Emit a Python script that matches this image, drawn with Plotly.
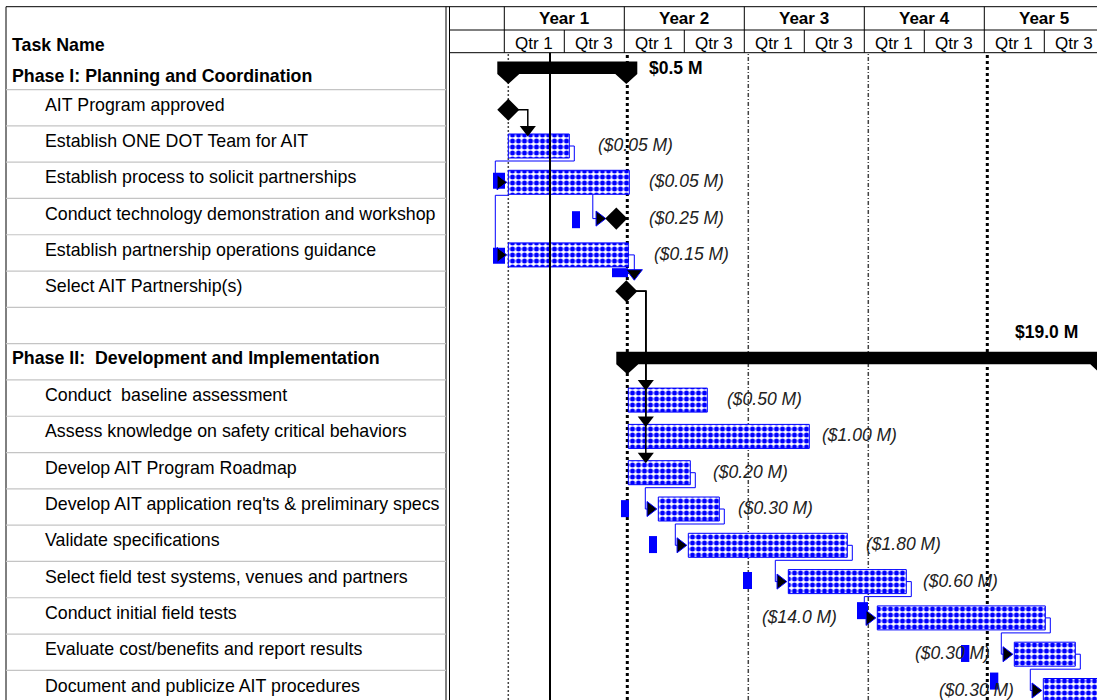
import plotly.graph_objects as go

# ---------------- data ----------------
task_names = [
    "Phase I: Planning and Coordination",
    "AIT Program approved",
    "Establish ONE DOT Team for AIT",
    "Establish process to solicit partnerships",
    "Conduct technology demonstration and workshop",
    "Establish partnership operations guidance",
    "Select AIT Partnership(s)",
    "",
    "Phase II:  Development and Implementation",
    "Conduct  baseline assessment",
    "Assess knowledge on safety critical behaviors",
    "Develop AIT Program Roadmap",
    "Develop AIT application req'ts & preliminary specs",
    "Validate specifications",
    "Select field test systems, venues and partners",
    "Conduct initial field tests",
    "Evaluate cost/benefits and report results",
    "Document and publicize AIT procedures",
]
task_kind = ["summary", "milestone", "task", "task", "milestone", "task", "milestone", "blank",
             "summary", "task", "task", "task", "task", "task", "task", "task", "task", "task"]
# months from project start
task_start = [0.0, 0.0, 0.0, 0.0, 10.8, 0.0, 11.8, None, 11.9,
              12.0, 12.0, 12.0, 15.0, 18.0, 28.0, 36.9, 50.6, 53.5]
task_finish = [11.8, 0.0, 6.1, 12.1, 10.8, 12.0, 11.8, None, 59.3,
               19.9, 30.1, 18.2, 21.1, 33.9, 39.8, 53.7, 56.7, 60.0]

summary_rows = [0, 8]
summary_cost = ["$0.5 M", "$19.0 M"]
summary_label_at = [13.9, 50.5]
summary_label_row = [-0.14, 7.13]

cost_rows = [2, 3, 4, 5, 9, 10, 11, 12, 13, 14, 15, 16, 17]
cost_text = ["($0.05 M)", "($0.05 M)", "($0.25 M)", "($0.15 M)", "($0.50 M)", "($1.00 M)",
             "($0.20 M)", "($0.30 M)", "($1.80 M)", "($0.60 M)", "($14.0 M)", "($0.30 M)", "($0.30 M)"]
cost_label_at = [8.8, 13.9, 13.9, 14.4, 21.7, 31.2, 20.3, 22.8, 35.6, 41.3, 25.2, 40.5, 42.9]

links = [(1, 2, "ms"), (2, 3, "fs"), (3, 4, "drop"), (3, 5, "ss"), (5, 6, "down"),
         (6, 9, "ms"), (6, 10, "ms"), (6, 11, "ms"),
         (11, 12, "fs"), (12, 13, "fs"), (13, 14, "fs"), (14, 15, "fs"), (15, 16, "fs"), (16, 17, "fs")]

flag_rows = [2.96, 4.03, 5.02, 5.49, 11.99, 12.98, 13.97, 14.8, 15.98, 16.74]
flag_from = [-1.53, 6.37, -1.53, 10.37, 11.27, 14.07, 23.47, 34.87, 45.27, 48.17]
flag_to = [-0.33, 7.17, -0.33, 11.97, 12.07, 14.87, 24.37, 35.97, 46.1, 49.0]

year_labels = ["Year 1", "Year 2", "Year 3", "Year 4", "Year 5"]
half_labels = ["Qtr 1", "Qtr 3"]
gridline_at = [0.0, 11.9, 24.0, 36.0, 47.9]
status_date = 4.17

# ---------------- layout constants ----------------
W, H = 1097, 700
X0_PX = 508.3          # pixel of month 0
PX_PER_MONTH = 10.0
ROW0_PX = 73.4         # pixel of row 0 bar centre
PX_PER_ROW = 36.3
CHART_LEFT = 449.5
dx = 1.0 / PX_PER_MONTH
dy = 1.0 / PX_PER_ROW
HDR_SHIFT = -0.4       # header year boundaries vs month grid

BLUE = "#0000FF"
FONT = "Liberation Sans, Arial, sans-serif"

flag_h_px = [16, 17, 16, 9, 17, 17, 17, 17, 17, 17]
grid_style = [dict(width=1.5, dash="2px,2px", color="#444"),
              dict(width=3, dash="3px,3px", color="black"),
              dict(width=1.5, dash="4px,2px,1px,2px", color="#444"),
              dict(width=1.5, dash="4px,2px,1px,2px", color="#444"),
              dict(width=3, dash="3px,3px", color="black")]


def py(p):
    return 1 - p / H


def pxp(p):
    return p / W


fig = go.Figure()

# task bars
t_rows = [i for i, k in enumerate(task_kind) if k == "task"]
fig.add_trace(go.Bar(
    orientation="h", y=t_rows,
    base=[task_start[i] for i in t_rows],
    x=[task_finish[i] - task_start[i] for i in t_rows],
    width=24 * dy,
    marker=dict(color="white", line=dict(color=BLUE, width=1),
                pattern=dict(shape=".", fgcolor=BLUE, bgcolor="white", size=6, solidity=0.55,
                             fillmode="replace")),
    hoverinfo="skip", showlegend=False))

# small solid blue markers
fig.add_trace(go.Bar(
    orientation="h", y=flag_rows, base=flag_from,
    x=[t - f for f, t in zip(flag_from, flag_to)],
    width=[h * dy for h in flag_h_px],
    marker=dict(color=BLUE, line=dict(width=0)),
    hoverinfo="skip", showlegend=False))

# summary bars
for r in summary_rows:
    s, f = task_start[r], task_finish[r]
    top, rb, pt = r - 12 * dy, r + 0.5 * dy, r + 10.5 * dy
    c = 11 * dx
    xs = [s - c, f + c, f + c, f, f - c, s + c, s, s - c, s - c]
    ys = [top, top, rb, pt, rb, rb, pt, rb, top]
    fig.add_trace(go.Scatter(x=xs, y=ys, mode="lines", fill="toself", fillcolor="black",
                             line=dict(width=0, color="black"), hoverinfo="skip", showlegend=False))

# links
bx, byy, kx, ky = [], [], [], []
ar_x, ar_y = [], []
adk_x, adk_y = [], []
adb_x, adb_y = [], []
for p, s, kind in links:
    if kind == "ms":
        xv = task_finish[p] + 19.5 * dx
        kx += [task_finish[p], xv, xv, None]
        ky += [p, p, s - 14 * dy, None]
        adk_x.append(xv)
        adk_y.append(s - 16.5 * dy)
    elif kind == "fs":
        xa = task_finish[p] + 5 * dx
        yb = p + 15 * dy
        xl = task_start[s] - 13 * dx
        bx += [task_finish[p], xa, xa, xl, xl, task_start[s] - 8 * dx, None]
        byy += [p, p, yb, yb, s, s, None]
        ar_x.append(task_start[s] - 8 * dx)
        ar_y.append(s)
    elif kind == "ss":
        yb = p + 13 * dy
        xl = task_start[p] - 13 * dx
        bx += [task_start[p], xl, xl, task_start[s] - 8 * dx, None]
        byy += [yb, yb, s, s, None]
        ar_x.append(task_start[s] - 8 * dx)
        ar_y.append(s)
    elif kind == "drop":
        xv = task_start[s] - 23.5 * dx
        bx += [xv, xv, task_start[s] - 17 * dx, None]
        byy += [p + 12.5 * dy, s, s, None]
        ar_x.append(task_start[s] - 17 * dx)
        ar_y.append(s)
    elif kind == "down":
        xa = task_finish[p] + 6 * dx
        bx += [task_finish[p], xa, xa, None]
        byy += [p, p, s - 18 * dy, None]
        adb_x.append(xa)
        adb_y.append(s - 18 * dy)

fig.add_trace(go.Scatter(x=bx, y=byy, mode="lines", line=dict(color=BLUE, width=1),
                         hoverinfo="skip", showlegend=False))
fig.add_trace(go.Scatter(x=kx, y=ky, mode="lines", line=dict(color="black", width=1.5),
                         hoverinfo="skip", showlegend=False))
fig.add_trace(go.Scatter(x=ar_x, y=ar_y, mode="markers",
                         marker=dict(symbol="triangle-right", size=13, color="black",
                                     line=dict(color=BLUE, width=1)),
                         hoverinfo="skip", showlegend=False))
fig.add_trace(go.Scatter(x=adk_x, y=adk_y, mode="markers",
                         marker=dict(symbol="triangle-down", size=14, color="black", line=dict(width=0)),
                         hoverinfo="skip", showlegend=False))
fig.add_trace(go.Scatter(x=adb_x, y=adb_y, mode="markers",
                         marker=dict(symbol="triangle-down", size=14, color="black",
                                     line=dict(color=BLUE, width=1)),
                         hoverinfo="skip", showlegend=False))

# milestones
m_rows = [i for i, k in enumerate(task_kind) if k == "milestone"]
fig.add_trace(go.Scatter(x=[task_start[i] for i in m_rows], y=m_rows, mode="markers",
                         marker=dict(symbol="diamond", size=17, color="black", line=dict(width=0)),
                         hoverinfo="skip", showlegend=False))

shapes = []
annotations = []

# vertical timeline lines
hdr_bottom = py(52.7)
for xg, st in zip(gridline_at, grid_style):
    shapes.append(dict(type="line", xref="x", yref="paper", x0=xg, x1=xg, y0=0, y1=hdr_bottom,
                       line=st, layer="below"))
shapes.append(dict(type="line", xref="x", yref="paper", x0=status_date, x1=status_date, y0=0,
                   y1=hdr_bottom, line=dict(color="black", width=2), layer="above"))

# table frame
LINE = dict(color="black", width=1)
shapes.append(dict(type="line", xref="paper", yref="paper", x0=pxp(6), x1=1, y0=py(6.7), y1=py(6.7), line=LINE))
shapes.append(dict(type="line", xref="paper", yref="paper", x0=pxp(6), x1=pxp(6), y0=0, y1=py(6.7), line=LINE))
for xp in (446, 449.5):
    shapes.append(dict(type="line", xref="paper", yref="paper", x0=pxp(xp), x1=pxp(xp), y0=0, y1=py(6.7),
                       line=LINE))
for i in range(len(task_names) - 1):
    yv = i + 0.5 - 2 * dy
    shapes.append(dict(type="line", xref="paper", yref="y", x0=pxp(6), x1=pxp(446), y0=yv, y1=yv,
                       line=dict(color="#c4c4c4", width=1.2)))

# timescale header
for yp in (30, 52.7):
    shapes.append(dict(type="line", xref="paper", yref="paper", x0=pxp(CHART_LEFT), x1=1,
                       y0=py(yp), y1=py(yp), line=LINE))
for k, lab in enumerate(year_labels):
    x_year = HDR_SHIFT + 12 * k
    shapes.append(dict(type="line", xref="x", yref="paper", x0=x_year, x1=x_year,
                       y0=py(52.7), y1=py(6.7), line=LINE))
    shapes.append(dict(type="line", xref="x", yref="paper", x0=x_year + 6, x1=x_year + 6,
                       y0=py(52.7), y1=py(30), line=LINE))
    annotations.append(dict(text="<b>%s</b>" % lab, xref="x", yref="paper", x=x_year + 6, y=py(18.3),
                            showarrow=False, xanchor="center", yanchor="middle",
                            font=dict(family=FONT, size=17, color="black")))
    for j, ql in enumerate(half_labels):
        annotations.append(dict(text=ql, xref="x", yref="paper", x=x_year + 3 + 6 * j, y=py(43.3),
                                showarrow=False, xanchor="center", yanchor="middle",
                                font=dict(family=FONT, size=17, color="black")))

# table text
annotations.append(dict(text="<b>Task Name</b>", xref="paper", yref="paper", x=pxp(10), y=py(45),
                        showarrow=False, xanchor="left", yanchor="middle",
                        font=dict(family=FONT, size=17.8, color="black")))
text_shift = {0: -2.4, 8: 6}
for i, name in enumerate(task_names):
    if not name:
        continue
    bold = task_kind[i] == "summary"
    annotations.append(dict(text=("<b>%s</b>" % name if bold else name).replace("  ", " \u00a0"),
                            xref="paper", yref="y", x=pxp(10 if bold else 43), y=i,
                            yshift=text_shift.get(i, 5),
                            showarrow=False, xanchor="left", yanchor="middle",
                            font=dict(family=FONT, size=17.8, color="black")))

# cost labels
for r, t, xa in zip(cost_rows, cost_text, cost_label_at):
    annotations.append(dict(text="<i>%s</i>" % t, xref="x", yref="y", x=xa, y=r, yshift=1,
                            showarrow=False, xanchor="left", yanchor="middle",
                            font=dict(family=FONT, size=17.5, color="#222")))
for t, xa, yr in zip(summary_cost, summary_label_at, summary_label_row):
    annotations.append(dict(text="<b>%s</b>" % t, xref="x", yref="y", x=xa, y=yr,
                            showarrow=False, xanchor="left", yanchor="middle",
                            font=dict(family=FONT, size=17.5, color="black")))

fig.update_layout(
    width=W, height=H, margin=dict(l=0, r=0, t=0, b=0),
    paper_bgcolor="white", plot_bgcolor="white",
    barmode="overlay", showlegend=False,
    xaxis=dict(domain=[CHART_LEFT / W, 1], range=[(CHART_LEFT - X0_PX) / PX_PER_MONTH, (W - X0_PX) / PX_PER_MONTH],
               showgrid=False, zeroline=False, showticklabels=False, ticks="", fixedrange=True),
    yaxis=dict(domain=[0, 1], range=[(H - ROW0_PX) / PX_PER_ROW, -ROW0_PX / PX_PER_ROW],
               showgrid=False, zeroline=False, showticklabels=False, ticks="", fixedrange=True),
    shapes=shapes, annotations=annotations,
)

fig.write_html("out.html", config={"displayModeBar": False},
               post_script="document.body.style.margin='0';document.body.style.overflow='hidden';")
